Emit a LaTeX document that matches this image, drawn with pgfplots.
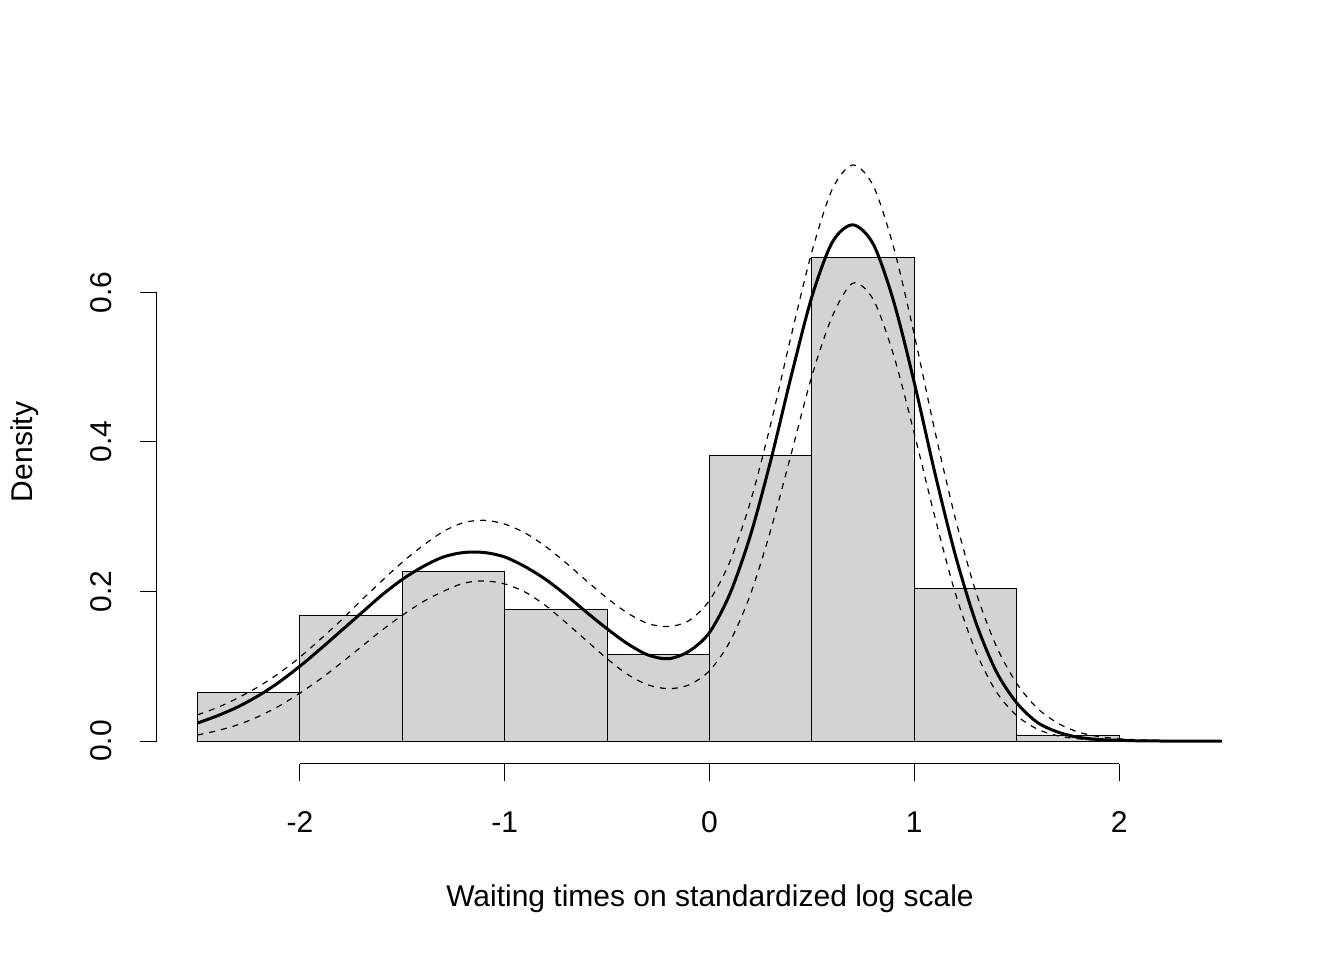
\documentclass[border=0pt]{standalone}
\usepackage{pgfplots}
\pgfplotsset{compat=1.18}
\usepackage{pgfplotstable}
\usepackage{fontspec}
\setmainfont{Liberation Sans}
\definecolor{histgray}{HTML}{D3D3D3}
\pgfplotstableread{
x s u l
-2.5 .024 .035 .008
-2.4 .034 .045 .014
-2.3 .046 .058 .022
-2.2 .061 .073 .033
-2.1 .079 .091 .047
-2.0 .100 .112 .064
-1.9 .123 .136 .083
-1.8 .147 .161 .104
-1.7 .171 .188 .126
-1.6 .195 .214 .148
-1.5 .216 .239 .168
-1.4 .233 .261 .186
-1.3 .246 .280 .200
-1.2 .252 .292 .211
-1.1 .252 .295 .214
-1.0 .246 .290 .210
-0.9 .233 .278 .199
-0.8 .216 .260 .181
-0.7 .195 .238 .158
-0.6 .172 .214 .134
-0.5 .150 .191 .110
-0.4 .130 .171 .089
-0.3 .115 .157 .075
-0.2 .110 .153 .070
-0.1 .120 .161 .075
0.0 .145 .188 .094
0.1 .197 .240 .133
0.2 .275 .320 .196
0.3 .376 .425 .283
0.4 .489 .543 .385
0.5 .594 .654 .488
0.6 .667 .738 .568
0.7 .690 .770 .612
0.8 .664 .742 .590
0.9 .587 .659 .515
1.0 .479 .543 .411
1.1 .359 .415 .300
1.2 .249 .298 .198
1.3 .159 .200 .120
1.4 .093 .127 .066
1.5 .051 .077 .034
1.6 .025 .044 .016
1.7 .012 .024 .007
1.8 .005 .012 .003
1.9 .002 .006 .001
2.0 .001 .003 .0005
2.1 .0002 .0015 .0002
2.2 0 .0007 0
2.3 0 .0003 0
2.4 0 0.0001 0
2.5 0 0 0
}\dens
\begin{document}
\begin{tikzpicture}
\fontsize{15}{18}\selectfont
\path (0,0) rectangle (672pt,480pt);
\begin{axis}[at={(98.75pt,109.5pt)}, anchor=south west,
  scale only axis, width=512pt, height=288pt,
  xmin=-2.5, xmax=2.5, ymin=0, ymax=0.77,
  axis lines=none, clip=false]
\addplot[ybar interval, fill=histgray, draw=black, line width=0.5pt] coordinates {
(-2.5,.0655) (-2,.168) (-1.5,.227) (-1,.176) (-0.5,.116) (0,.382) (0.5,.647) (1,.204) (1.5,.0067) (2,.0013) (2.5,0)};
\addplot[black, line width=1.5pt, smooth] table[x=x,y=s]{\dens};
\addplot[black, line width=0.6pt, dashed, smooth] table[x=x,y=u]{\dens};
\addplot[black, line width=0.6pt, dashed, smooth] table[x=x,y=l]{\dens};
\coordinate (Y0) at (axis cs:-2.698,0);
\coordinate (Y2) at (axis cs:-2.698,0.2);
\coordinate (Y4) at (axis cs:-2.698,0.4);
\coordinate (Y6) at (axis cs:-2.698,0.6);
\coordinate (Xa) at (axis cs:-2,-0.0307);
\coordinate (Xb) at (axis cs:-1,-0.0307);
\coordinate (Xc) at (axis cs:0,-0.0307);
\coordinate (Xd) at (axis cs:1,-0.0307);
\coordinate (Xe) at (axis cs:2,-0.0307);
\end{axis}
\draw[line width=0.5pt] (Y0) -- (Y6);
\foreach \p/\t in {Y0/0.0,Y2/0.2,Y4/0.4,Y6/0.6}{
  \draw[line width=0.5pt] (\p) -- ++(-8.5pt,0);
  \node[rotate=90, anchor=center] at ([xshift=-28pt]\p) {\t};
}
\draw[line width=0.5pt] (Xa) -- (Xe);
\foreach \p/\t in {Xa/-2,Xb/-1,Xc/0,Xd/1,Xe/2}{
  \draw[line width=0.5pt] (\p) -- ++(0,-8.5pt);
  \node[anchor=center] at ([yshift=-29pt]\p) {\t};
}
\node at (355pt,30.5pt) {Waiting times on standardized log scale};
\node[rotate=90] at (12.5pt,254pt) {Density};
\end{tikzpicture}
\end{document}
